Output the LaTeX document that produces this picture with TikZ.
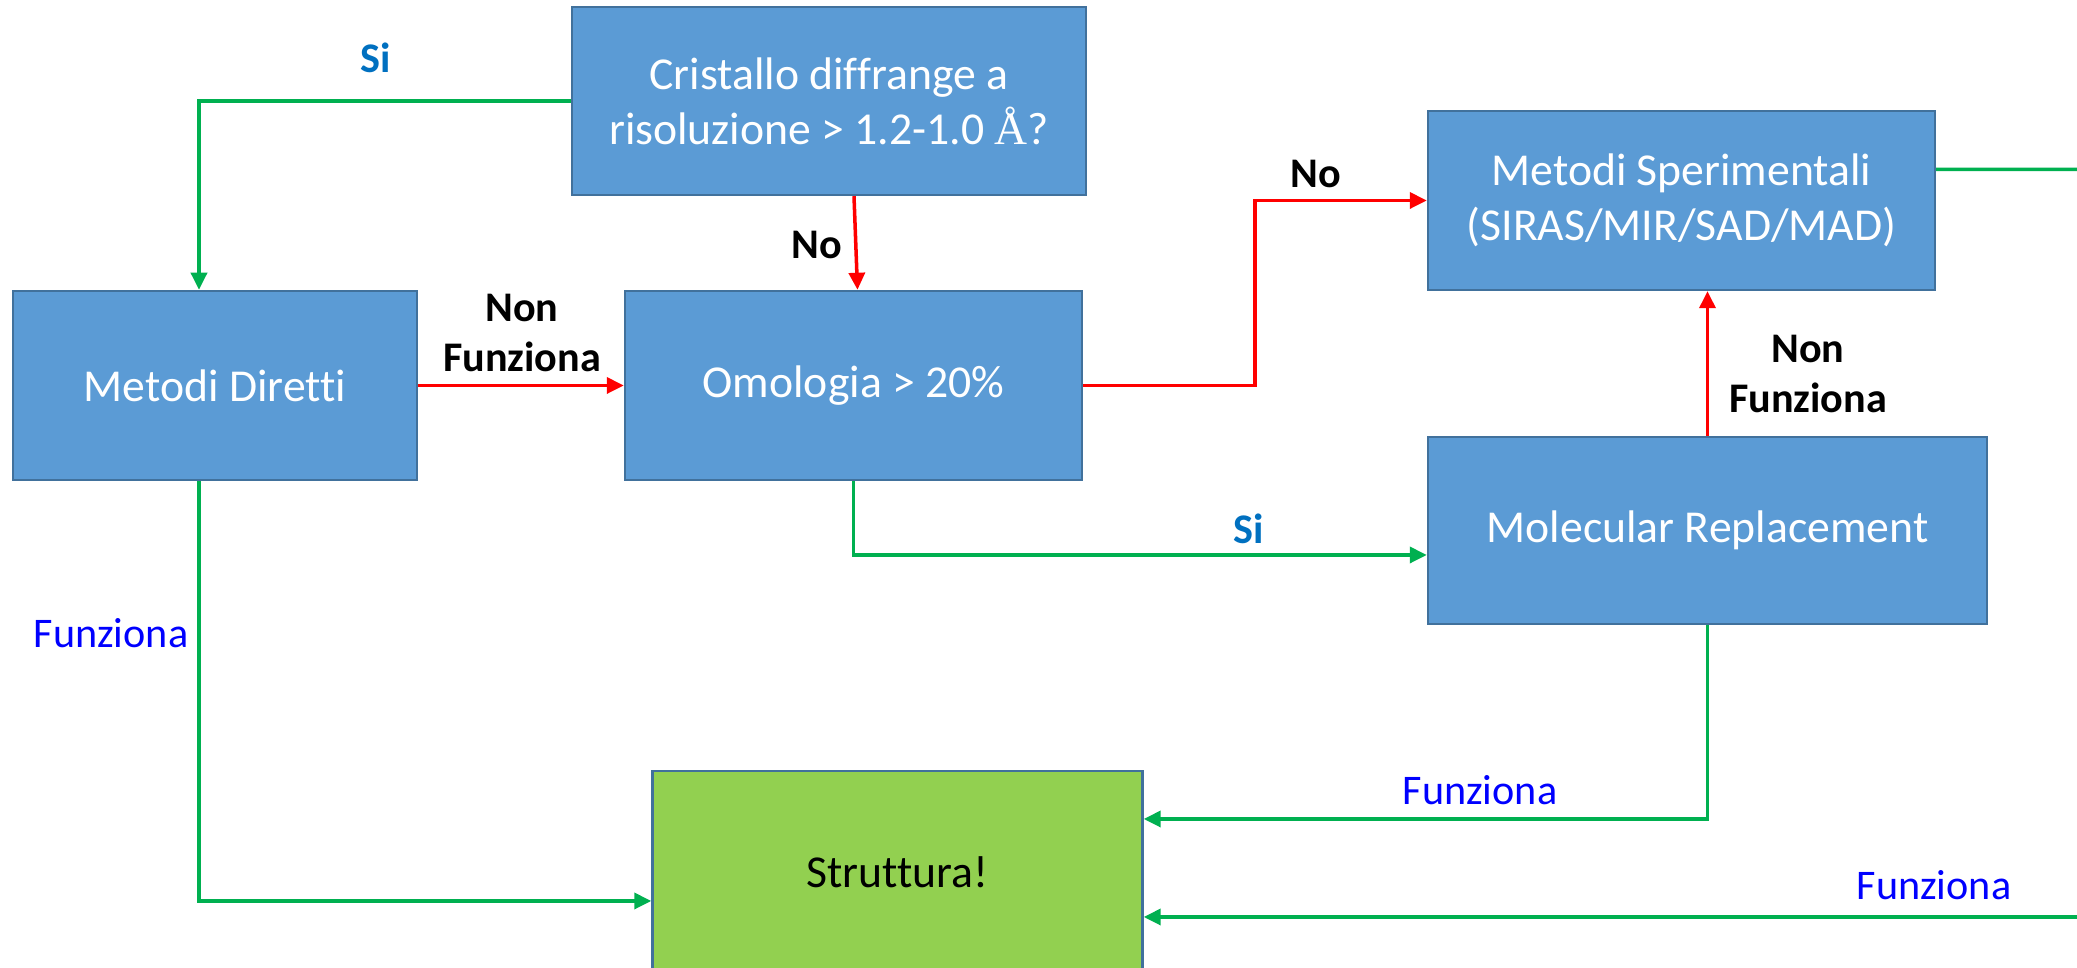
\documentclass[tikz,border=0pt]{standalone}
\usepackage{fontspec}
\setmainfont[Ligatures=NoCommon]{Carlito}
\newfontfamily\angstromfont{Liberation Serif}
\usetikzlibrary{arrows.meta,positioning,calc}
\definecolor{boxblue}{HTML}{5B9BD5}
\definecolor{boxedge}{HTML}{41719C}
\definecolor{okgreen}{HTML}{92D050}
\definecolor{greenline}{HTML}{00B050}
\definecolor{siblue}{HTML}{0070C0}
\definecolor{funzblue}{HTML}{0000FF}
\tikzset{
  blk/.style   = {draw=boxedge, line width=0.7pt, fill=boxblue, text=white,
                  align=center, font=\fontsize{13}{15.6}\selectfont, inner sep=2pt},
  okblk/.style = {blk, fill=okgreen, text=black},
  garr/.style  = {-{Triangle[length=1.7mm,width=1.6mm]}, draw=greenline, line width=1pt},
  gline/.style = {draw=greenline, line width=1pt},
  rarr/.style  = {-{Triangle[length=1.7mm,width=1.6mm]}, draw=red, line width=1pt},
  lbl/.style   = {font=\fontsize{12}{14.2}\selectfont\bfseries, align=center, inner sep=1pt},
  silbl/.style = {lbl, text=siblue},
  oklbl/.style = {font=\fontsize{12}{14.2}\selectfont, text=funzblue, inner sep=1pt}
}

\begin{document}
\begin{tikzpicture}[x=1cm, y=1cm]
\useasboundingbox (0,0) rectangle (20.77,9.68);

% decision boxes
\node[blk, minimum width=5.14cm, minimum height=1.88cm] (crist) at (8.29,8.67)
      {Cristallo diffrange a\\ risoluzione > 1.2-1.0 {\angstromfont Å}?};
\node[blk, minimum width=4.04cm, minimum height=1.89cm] (diretti) at (2.15,5.825)
      {Metodi Diretti};
\node[blk, minimum width=4.57cm, minimum height=1.89cm] (omol) at (8.535,5.825)
      {Omologia > 20\%};
\node[blk, minimum width=5.07cm, minimum height=1.79cm] (sper) at (16.815,7.675)
      {Metodi Sperimentali\\ (SIRAS/MIR/SAD/MAD)};
\node[blk, minimum width=5.59cm, minimum height=1.87cm] (molrep) at (17.075,4.375)
      {Molecular Replacement};
\node[okblk, minimum width=4.90cm, minimum height=2.02cm] (strut) at (8.975,0.96)
      {Struttura!};

% failure paths
\draw[rarr] ([xshift=2.5mm]crist.south) -- ([xshift=0.4mm]omol.north);
\draw[rarr] (diretti.east) -- (omol.west);
\draw[rarr] (omol.east) -- ++(1.72,0) |- (sper.west);
\draw[rarr] (molrep.north) -- (molrep.north |- sper.south);

% success paths
\draw[garr] (crist.west) -| ([xshift=-1.6mm]diretti.north);
\draw[garr] (omol.south) |- ([yshift=-2.45mm]molrep.west);
\draw[garr] ([xshift=-1.6mm]diretti.south) |- ([yshift=-2.9mm]strut.west);
\draw[garr] (molrep.south) |- ([yshift=5.3mm]strut.east);
\coordinate (sperout) at (20.77,7.985);
\coordinate (strutin) at (20.77,0.51);
\draw[gline] ([yshift=3.1mm]sper.east) -- (sperout);
\draw[garr] (strutin) -- (strutin -| strut.east);

\node[silbl] (si1) at (3.76,9.10) {Si};
\node[lbl] (no1) at (8.17,7.23) {No};
\node[lbl] (nf1) at (5.22,6.35) {Non\\ Funziona};
\node[lbl] (no2) at (13.16,7.94) {No};
\node[lbl] (nf2) at (18.08,5.94) {Non\\ Funziona};
\node[silbl] (si2) at (12.49,4.39) {Si};
\node[oklbl] (f1) at (1.11,3.35) {Funziona};
\node[oklbl] (f2) at (14.80,1.78) {Funziona};
\node[oklbl] (f3) at (19.34,0.83) {Funziona};
\end{tikzpicture}
\end{document}
